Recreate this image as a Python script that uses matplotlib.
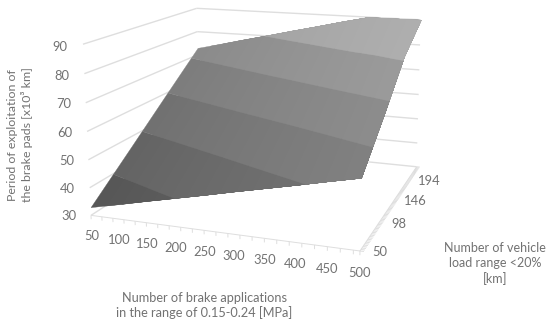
import numpy as np
import matplotlib
matplotlib.use("Agg")
import matplotlib.pyplot as plt
from matplotlib.figure import Figure
from mpl_toolkits.mplot3d.art3d import Poly3DCollection, Line3DCollection

# ---- data ----
x_values = [50, 100, 150, 200, 250, 300, 350, 400, 450, 500]
y_values = [50, 98, 146, 194]
z_ticks = [30, 40, 50, 60, 70, 80, 90]
row_y50 = [33.0, 35.3, 37.7, 40.0, 42.3, 44.7, 47.0, 49.3, 51.7, 54.0]
row_y98 = [46.3, 48.6, 50.9, 53.2, 55.5, 57.8, 60.1, 62.4, 64.7, 67.0]
row_y146 = [59.7, 62.1, 64.4, 66.8, 69.2, 71.5, 73.9, 76.3, 78.6, 81.0]
row_y194 = [73.0, 75.4, 77.9, 80.3, 82.8, 85.2, 87.7, 90.0, 90.0, 90.0]
band_grays = [0x5e, 0x6b, 0x78, 0x84, 0x92, 0xa6]

x_title = "Number of brake applications\nin the range of 0.15-0.24 [MPa]"
y_title = "Number of vehicle\nload range <20%\n[km]"
z_title = "Period of exploitation of\nthe brake pads [x10³ km]"

TEXT = "#727272"
GRID = "#dedede"
plt.rcParams["font.family"] = ["Lato", "DejaVu Sans"]

# ---- camera: perspective fitted to the frame of the reference ----
frame_world = np.array([
    (50, 50, 30), (500, 50, 30), (500, 194, 30),
    (50, 50, 90), (50, 194, 90), (500, 194, 90),
    (50, 50, 60), (500, 194, 60), (50, 194, 80),
], float)
frame_pixels = np.array([
    (91, 215), (360, 251), (417, 167),
    (83, 44), (197, 8), (421, 20),
    (87, 132), (418, 94), (197, 32),
], float)

def fit_camera(world, pix):
    lo = np.array([50, 50, 30.0]); hi = np.array([500, 194, 90.0])
    S = np.diag(list(1 / (hi - lo)) + [1.0])
    S[:3, 3] = -lo / (hi - lo)
    n = (world - lo) / (hi - lo)
    A = []
    for (a, b, c), (u, v) in zip(n, pix):
        A.append([a, b, c, 1, 0, 0, 0, 0, -u * a, -u * b, -u * c, -u])
        A.append([0, 0, 0, 0, a, b, c, 1, -v * a, -v * b, -v * c, -v])
    p = np.linalg.svd(np.array(A))[2][-1].reshape(3, 4)
    if p[2, 3] < 0:
        p = -p
    M = np.vstack([p[0], p[1], [0, 1, 0, 0], p[2]])
    return M @ S

W, H = 550, 325
fig = plt.figure(figsize=(W / 100, H / 100), dpi=100, facecolor="white")
ax = fig.add_axes([0, (H - W) / 2 / H, 1, W / H], projection="3d")
ax.set_axis_off()
ax.computed_zorder = False
M = fit_camera(frame_world, frame_pixels)
ax.get_proj = lambda: M

xv = np.array(x_values, float)
yv = np.array(y_values, float)
zg = np.array([row_y50, row_y98, row_y146, row_y194])

def surface_z(px, py):
    cols = np.array([np.interp(px, xv, r) for r in zg])
    return np.array([np.interp(b, yv, cols[:, i]) for i, b in enumerate(py)])

# ---- walls ----
wall_lines = []
for z in z_ticks:
    wall_lines.append([(50, 50, z), (50, 194, z)])
    wall_lines.append([(50, 194, z), (500, 194, z)])
ax.add_collection3d(Line3DCollection(wall_lines, colors=GRID, linewidths=1.0, zorder=1))

# ---- floor axes ----
floor = [[(50, 50, 30), (500, 50, 30)], [(500, 50, 30), (500, 194, 30)]]
for t in np.append(np.arange(50, 500, 20), 500):
    floor.append([(t, 50, 30), (t, 50, 28.6)])
for t in np.arange(50, 195, 2):
    floor.append([(500, t, 30), (506, t, 30)])
ax.add_collection3d(Line3DCollection(floor, colors=GRID, linewidths=0.7, zorder=1))

# ---- surface: one grey per 10-unit band, lightening slowly to the right.
#      Each layer covers everything to its right, so no seams appear. ----
levels = np.array(z_ticks, float)
scratch = Figure().add_subplot()
starts = np.linspace(xv[0], xv[-1], 17)[:-1]
for n, a in enumerate(starts):
    sx = np.concatenate([[a], xv[xv > a]])
    sz = np.column_stack([surface_z(np.full(len(yv), v), yv) for v in sx])
    sub = scratch.contourf(sx, yv, sz, levels=levels)
    shade = 16 * (a + (starts[1] - starts[0]) / 2 - 275) / 450
    for g, path in zip(band_grays, sub.get_paths()):
        polys = []
        for poly in path.to_polygons(closed_only=True):
            if len(poly) >= 3:
                polys.append(np.column_stack([poly, surface_z(poly[:, 0], poly[:, 1])]))
        if not polys:
            continue
        c = np.clip(g + shade, 0, 255) / 255
        ax.add_collection3d(Poly3DCollection(polys, facecolors=(c, c, c), edgecolors=(c, c, c),
                                             linewidths=0.25, zorder=3 + n))

# ---- tick labels ----
for t in x_values:
    ax.text(t, 50, 22.5, str(t), ha="center", va="center", color=TEXT, fontsize=9.4)
for t in y_values:
    f = (t - 50) / 144
    ax.text(530 - 5 * f, t, 30.6 - 6.0 * f, str(t), ha="center", va="center", color=TEXT, fontsize=9.4)
for t in z_ticks:
    ax.text(9, 50, t - 1.3, str(t), ha="center", va="center", color=TEXT, fontsize=9.4)

# ---- axis titles ----
fig.text(204 / W, 1 - 305.5 / H, x_title, ha="center", va="center", color=TEXT, fontsize=9.2, linespacing=1.2)
fig.text(495 / W, 1 - 263.5 / H, y_title, ha="center", va="center", color=TEXT, fontsize=9.0, linespacing=1.3)
fig.text(20 / W, 1 - 135 / H, z_title, ha="center", va="center", color=TEXT, fontsize=8.9, linespacing=1.25,
         rotation=90, multialignment="center")

ax.viewLim.intervalx = (0, W)
ax.viewLim.intervaly = (H + (W - H) / 2, -(W - H) / 2)
fig.savefig("out.png", dpi=100, facecolor="white")
